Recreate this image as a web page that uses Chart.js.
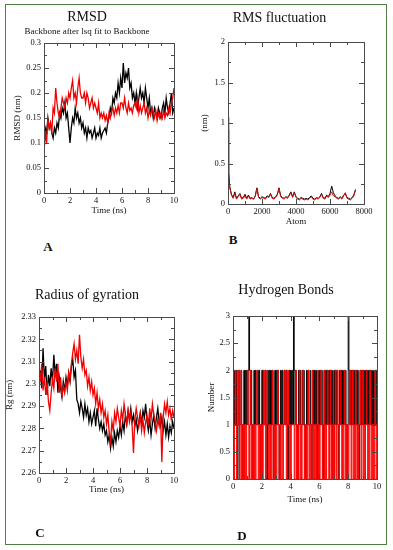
<!DOCTYPE html>
<html>
<head>
<meta charset="utf-8">
<script src="https://cdn.jsdelivr.net/npm/chart.js@4.4.1/dist/chart.umd.min.js"></script>
<style>
    body { margin: 0; background: #fff; }
    #page { position: relative; width: 393px; height: 550px; background: #fff; overflow: hidden; }
    #frame { position: absolute; left: 5px; top: 4px; width: 380px; height: 539px; border: 1px solid #4e7e46; }
    canvas { position: absolute; }
    .tag { position: absolute; transform: translate(-50%, -50%); font: bold 13px "Liberation Serif", serif; color: #111; }
</style>
</head>
<body>
<div id="page">
    <div id="frame"></div>
    <canvas id="rmsd" width="195" height="230" style="left:0;top:0"></canvas>
    <canvas id="rmsf" width="198" height="230" style="left:195px;top:0"></canvas>
    <canvas id="gyr" width="195" height="280" style="left:0;top:270px"></canvas>
    <canvas id="hbond" width="198" height="280" style="left:195px;top:270px"></canvas>
    <div class="tag" style="left:48px;top:247px">A</div>
    <div class="tag" style="left:233px;top:240px">B</div>
    <div class="tag" style="left:40px;top:533px">C</div>
    <div class="tag" style="left:242px;top:536px">D</div>
</div>
<script>
// RMSD (nm), one value every 0.1 ns
const rmsdBlack = [
    0.10, 0.13, 0.12, 0.15, 0.13, 0.14, 0.12, 0.11, 0.13, 0.12,
    0.14, 0.13, 0.16, 0.15, 0.17, 0.16, 0.18, 0.15, 0.16, 0.13,
    0.10, 0.13, 0.15, 0.14, 0.17, 0.15, 0.16, 0.14, 0.15, 0.13,
    0.14, 0.12, 0.13, 0.11, 0.13, 0.12, 0.125, 0.11, 0.12, 0.13,
    0.11, 0.12, 0.115, 0.13, 0.11, 0.12, 0.125, 0.13, 0.12, 0.14,
    0.15, 0.17, 0.16, 0.19, 0.18, 0.20, 0.19, 0.22, 0.20, 0.23,
    0.21, 0.26, 0.22, 0.24, 0.23, 0.25, 0.21, 0.22, 0.19, 0.20,
    0.18, 0.20, 0.17, 0.19, 0.21, 0.19, 0.20, 0.18, 0.21, 0.19,
    0.17, 0.19, 0.16, 0.17, 0.15, 0.17, 0.16, 0.15, 0.17, 0.16,
    0.15, 0.17, 0.18, 0.16, 0.19, 0.17, 0.16, 0.18, 0.20, 0.16,
    0.17
];
const rmsdRed = [
    0.08, 0.12, 0.10, 0.15, 0.13, 0.14, 0.12, 0.17, 0.16, 0.21,
    0.18, 0.16, 0.15, 0.17, 0.19, 0.18, 0.17, 0.19, 0.18, 0.20,
    0.19, 0.21, 0.225, 0.19, 0.20, 0.18, 0.21, 0.23, 0.20, 0.19,
    0.19, 0.20, 0.18, 0.20, 0.19, 0.17, 0.18, 0.19, 0.17, 0.18,
    0.17, 0.16, 0.18, 0.15, 0.16, 0.15, 0.16, 0.145, 0.155, 0.14,
    0.16, 0.15, 0.165, 0.17, 0.155, 0.17, 0.16, 0.175, 0.16, 0.18,
    0.18, 0.17, 0.19, 0.17, 0.16, 0.18, 0.165, 0.17, 0.16, 0.175,
    0.18, 0.17, 0.19, 0.16, 0.175, 0.16, 0.17, 0.18, 0.16, 0.17,
    0.15, 0.165, 0.155, 0.17, 0.16, 0.15, 0.165, 0.145, 0.16, 0.15,
    0.16, 0.15, 0.165, 0.15, 0.16, 0.155, 0.17, 0.16, 0.18, 0.19,
    0.21
];

// RMS fluctuation (nm) per atom
const rmsfAtoms = [
    0, 25, 50, 100, 150, 200,
    300, 400, 500, 600, 700, 800, 900, 1000, 1100, 1200,
    1300, 1400, 1500, 1600, 1700, 1800, 1900, 2000, 2100, 2200,
    2300, 2400, 2500, 2600, 2700, 2800, 2900, 3000, 3100, 3200,
    3300, 3400, 3500, 3600, 3700, 3800, 3900, 4000, 4100, 4200,
    4300, 4400, 4500, 4600, 4700, 4800, 4900, 5000, 5100, 5200,
    5300, 5400, 5500, 5600, 5700, 5800, 5900, 6000, 6100, 6200,
    6300, 6400, 6500, 6600, 6700, 6800, 6900, 7000, 7100, 7200,
    7300, 7400, 7500
];
const rmsfBlack = [
    1.07, 0.80, 0.42, 0.22, 0.17, 0.12,
    0.08, 0.15, 0.07, 0.10, 0.13, 0.07, 0.08, 0.12, 0.07, 0.11,
    0.07, 0.08, 0.06, 0.10, 0.20, 0.09, 0.07, 0.09, 0.08, 0.07,
    0.10, 0.09, 0.13, 0.08, 0.07, 0.09, 0.12, 0.20, 0.10, 0.08,
    0.07, 0.09, 0.08, 0.11, 0.15, 0.09, 0.15, 0.09, 0.07, 0.06,
    0.08, 0.07, 0.06, 0.07, 0.06, 0.08, 0.10, 0.07, 0.06, 0.08,
    0.07, 0.09, 0.13, 0.08, 0.07, 0.11, 0.09, 0.13, 0.22, 0.14,
    0.10, 0.08, 0.07, 0.09, 0.07, 0.11, 0.13, 0.08, 0.07, 0.06,
    0.08, 0.11, 0.18
];
const rmsfRed = [
    0.92, 0.70, 0.38, 0.20, 0.16, 0.11,
    0.07, 0.13, 0.06, 0.09, 0.12, 0.06, 0.07, 0.10, 0.06, 0.10,
    0.06, 0.07, 0.06, 0.09, 0.19, 0.08, 0.06, 0.08, 0.07, 0.06,
    0.09, 0.08, 0.12, 0.07, 0.06, 0.08, 0.11, 0.19, 0.09, 0.07,
    0.06, 0.08, 0.07, 0.10, 0.14, 0.08, 0.14, 0.08, 0.06, 0.05,
    0.07, 0.06, 0.05, 0.06, 0.05, 0.07, 0.09, 0.06, 0.05, 0.07,
    0.06, 0.08, 0.12, 0.07, 0.06, 0.10, 0.08, 0.11, 0.15, 0.10,
    0.09, 0.07, 0.06, 0.08, 0.06, 0.10, 0.14, 0.07, 0.06, 0.05,
    0.07, 0.10, 0.17
];

// Radius of gyration (nm), one value every 0.1 ns
const rgBlack = [
    2.300, 2.306, 2.298, 2.316, 2.302, 2.308, 2.295, 2.304, 2.299, 2.307,
    2.301, 2.313, 2.304, 2.309, 2.296, 2.303, 2.298, 2.294, 2.301, 2.297,
    2.303, 2.299, 2.305, 2.301, 2.308, 2.311, 2.303, 2.306, 2.293, 2.291,
    2.287, 2.292, 2.289, 2.285, 2.291, 2.286, 2.289, 2.283, 2.287, 2.282,
    2.285, 2.288, 2.281, 2.289, 2.284, 2.280, 2.283, 2.279, 2.282, 2.277,
    2.279, 2.274, 2.277, 2.271, 2.276, 2.272, 2.278, 2.274, 2.279, 2.276,
    2.281, 2.277, 2.283, 2.279, 2.286, 2.282, 2.288, 2.284, 2.289, 2.283,
    2.286, 2.281, 2.284, 2.279, 2.283, 2.287, 2.282, 2.288, 2.285, 2.291,
    2.283, 2.279, 2.284, 2.277, 2.282, 2.286, 2.280, 2.285, 2.289, 2.283,
    2.281, 2.285, 2.279, 2.283, 2.277, 2.282, 2.276, 2.281, 2.278, 2.283,
    2.280
];
const rgRed = [
    2.306, 2.301, 2.309, 2.297, 2.303, 2.295, 2.301, 2.292, 2.288, 2.296,
    2.302, 2.298, 2.307, 2.301, 2.309, 2.296, 2.303, 2.294, 2.299, 2.296,
    2.301, 2.297, 2.305, 2.302, 2.309, 2.314, 2.318, 2.311, 2.315, 2.309,
    2.322, 2.312, 2.307, 2.311, 2.304, 2.306, 2.299, 2.303, 2.297, 2.301,
    2.295, 2.298, 2.291, 2.296, 2.289, 2.293, 2.287, 2.291, 2.285, 2.288,
    2.282, 2.286, 2.278, 2.274, 2.283, 2.279, 2.287, 2.283, 2.289, 2.285,
    2.281, 2.288, 2.284, 2.291, 2.286, 2.282, 2.288, 2.283, 2.287, 2.281,
    2.269, 2.284, 2.289, 2.285, 2.281, 2.286, 2.279, 2.284, 2.278, 2.283,
    2.286, 2.281, 2.289, 2.284, 2.291, 2.286, 2.283, 2.279, 2.284, 2.281,
    2.287, 2.265, 2.285, 2.291, 2.287, 2.292, 2.286, 2.289, 2.284, 2.288,
    2.285
];

// hydrogen bond count, one value every 0.05 ns
const hbBlack = [
    1, 2, 1, 1, 2, 1, 0, 1, 2, 1,
    1, 2, 1, 0, 1, 2, 1, 2, 1, 2,
    1, 2, 3, 2, 1, 2, 1, 0, 1, 2,
    1, 2, 1, 1, 2, 1, 2, 1, 0, 1,
    2, 1, 2, 1, 1, 2, 1, 0, 2, 1,
    2, 1, 2, 1, 2, 1, 0, 1, 2, 1,
    2, 1, 2, 1, 0, 1, 2, 1, 2, 1,
    1, 2, 1, 1, 2, 1, 0, 1, 2, 1,
    2, 1, 2, 1, 3, 2, 1, 2, 1, 0,
    1, 2, 1, 2, 1, 1, 2, 1, 2, 1,
    0, 1, 2, 1, 2, 1, 1, 2, 1, 0,
    1, 2, 1, 2, 1, 2, 1, 0, 1, 2,
    1, 2, 1, 2, 1, 0, 1, 2, 1, 2,
    1, 2, 1, 2, 1, 2, 1, 2, 0, 1,
    2, 1, 2, 1, 2, 1, 0, 1, 2, 1,
    2, 1, 2, 1, 2, 1, 2, 1, 0, 1,
    3, 2, 1, 2, 1, 2, 1, 2, 1, 2,
    1, 2, 1, 2, 1, 0, 1, 2, 1, 2,
    1, 2, 1, 2, 1, 2, 1, 2, 1, 2,
    1, 2, 1, 2, 1, 2, 1, 2, 1, 2,
    1
];
const hbRed = [
    1, 0, 1, 2, 1, 0, 2, 1, 2, 0,
    1, 2, 0, 1, 0, 1, 0, 1, 0, 1,
    2, 1, 0, 1, 2, 0, 1, 0, 1, 0,
    1, 0, 1, 2, 1, 0, 1, 0, 1, 0,
    1, 0, 2, 1, 2, 0, 1, 2, 1, 0,
    1, 0, 1, 0, 1, 2, 0, 1, 0, 1,
    0, 1, 2, 1, 0, 1, 0, 1, 1, 0,
    1, 2, 1, 2, 0, 1, 2, 1, 0, 1,
    0, 1, 1, 1, 1, 0, 1, 2, 0, 1,
    0, 1, 2, 0, 1, 0, 1, 2, 1, 0,
    1, 0, 1, 0, 2, 1, 0, 1, 0, 1,
    2, 0, 1, 0, 1, 0, 1, 2, 0, 1,
    0, 1, 2, 1, 0, 1, 2, 0, 1, 0,
    1, 2, 1, 0, 1, 2, 0, 1, 0, 1,
    0, 1, 2, 0, 1, 2, 1, 0, 1, 2,
    1, 0, 1, 0, 1, 2, 0, 1, 0, 1,
    0, 1, 2, 1, 0, 1, 2, 0, 1, 0,
    2, 1, 0, 1, 0, 1, 2, 1, 0, 1,
    2, 0, 1, 0, 1, 2, 1, 0, 1, 0,
    2, 1, 0, 1, 0, 1, 0, 2, 1, 0,
    1
];

const serif = '"Liberation Serif", "Times New Roman", serif';
const ink = '#111';

function series(values, step) {
    return values.map((v, i) => ({ x: +(i * step).toFixed(2), y: v }));
}
function paired(xs, values) {
    return values.map((v, i) => ({ x: xs[i], y: v }));
}
const numLabel = v => String(+Number(v).toFixed(3));

// boxed frame with inward major/minor ticks on all four sides
const boxTicks = {
    id: 'boxTicks',
    afterDraw(chart, args, opts) {
        const { ctx, chartArea: a, scales: { x, y } } = chart;
        ctx.save();
        ctx.strokeStyle = '#4a4a4a';
        ctx.lineWidth = 1;
        ctx.strokeRect(Math.round(a.left) + 0.5, Math.round(a.top) + 0.5,
            Math.round(a.right - a.left), Math.round(a.bottom - a.top));
        ctx.beginPath();
        const mark = (scale, value, len) => {
            const p = Math.round(scale.getPixelForValue(value)) + 0.5;
            if (scale.isHorizontal()) {
                ctx.moveTo(p, a.bottom); ctx.lineTo(p, a.bottom - len);
                ctx.moveTo(p, a.top); ctx.lineTo(p, a.top + len);
            } else {
                ctx.moveTo(a.left, p); ctx.lineTo(a.left + len, p);
                ctx.moveTo(a.right, p); ctx.lineTo(a.right - len, p);
            }
        };
        [[x, opts.xMinor], [y, opts.yMinor]].forEach(([scale, minor]) => {
            const n = Math.round((scale.max - scale.min) / minor);
            for (let i = 0; i <= n; i++) {
                const v = scale.min + i * minor;
                const major = scale.ticks.some(t => Math.abs(t.value - v) < minor / 10);
                mark(scale, v, major ? 5 : 3);
            }
        });
        ctx.stroke();
        ctx.restore();
    }
};

function zeroPad(s) {
    s.paddingLeft = 0; s.paddingRight = 0; s.paddingTop = 0; s.paddingBottom = 0;
}

function xAxis(min, max, step, label, height, titlePad) {
    return {
        type: 'linear', min: min, max: max,
        grid: { display: false, drawTicks: false, tickLength: 0 }, border: { display: false },
        ticks: {
            stepSize: step, autoSkip: false, maxRotation: 0, padding: 3,
            color: ink, font: { family: serif, size: 8.5 }, callback: numLabel
        },
        title: {
            display: true, text: label, color: ink,
            font: { family: serif, size: 9 }, padding: { top: 0, bottom: titlePad }
        },
        afterFit(s) { s.height = height; zeroPad(s); }
    };
}

function yAxis(min, max, step, label, width, titlePad) {
    return {
        type: 'linear', min: min, max: max,
        grid: { display: false, drawTicks: false, tickLength: 0 }, border: { display: false },
        ticks: {
            stepSize: step, autoSkip: false, padding: 3,
            color: ink, font: { family: serif, size: 8.5 }, callback: numLabel
        },
        title: {
            display: true, text: label, color: ink,
            font: { family: serif, size: 9 }, padding: { top: titlePad, bottom: 0 }
        },
        afterFit(s) { s.width = width; zeroPad(s); }
    };
}

function lineSet(data, color, width, stepped) {
    return {
        data: data, borderColor: color, backgroundColor: color,
        borderWidth: width, pointRadius: 0, tension: 0, stepped: !!stepped
    };
}

function panel(id, cfg) {
    new Chart(document.getElementById(id), {
        type: 'line',
        data: { datasets: cfg.datasets },
        options: {
            responsive: false,
            animation: false,
            events: [],
            layout: { padding: cfg.padding },
            plugins: {
                legend: { display: false },
                tooltip: { enabled: false },
                title: {
                    display: true, text: cfg.title, color: ink,
                    font: { family: serif, size: 14, weight: 'normal' },
                    padding: cfg.titlePad
                },
                subtitle: {
                    display: !!cfg.subtitle, text: cfg.subtitle || '', color: ink,
                    font: { family: serif, size: 9, weight: 'normal' },
                    padding: cfg.subPad || 0
                },
                boxTicks: cfg.minor
            },
            scales: { x: cfg.x, y: cfg.y }
        },
        plugins: [boxTicks]
    });
}

panel('rmsd', {
    title: 'RMSD',
    subtitle: 'Backbone after lsq fit to Backbone',
    titlePad: { top: 9, bottom: 0 },
    subPad: { top: 0, bottom: 6.4 },
    padding: { left: 0, right: 21, top: 0, bottom: 11 },
    datasets: [
        lineSet(series(rmsdRed, 0.1), '#f00000', 1.3),
        lineSet(series(rmsdBlack, 0.1), '#000000', 1.3)
    ],
    x: xAxis(0, 10, 2, 'Time (ns)', 26, 2.6),
    y: yAxis(0, 0.3, 0.05, 'RMSD (nm)', 44, 12.6),
    minor: { xMinor: 1, yMinor: 0.025 }
});

panel('rmsf', {
    title: 'RMS fluctuation',
    titlePad: { top: 9.6, bottom: 15.6 },
    padding: { left: 0, right: 29, top: 0, bottom: 0 },
    datasets: [
        lineSet(paired(rmsfAtoms, rmsfRed), '#d01010', 1),
        lineSet(paired(rmsfAtoms, rmsfBlack), '#000000', 1)
    ],
    x: xAxis(0, 8000, 2000, 'Atom', 26, 2.6),
    y: yAxis(0, 2, 0.5, '(nm)', 33, 4.6),
    minor: { xMinor: 1000, yMinor: 0.25 }
});

panel('gyr', {
    title: 'Radius of gyration',
    titlePad: { top: 17.1, bottom: 13.1 },
    padding: { left: 0, right: 21, top: 0, bottom: 51 },
    datasets: [
        lineSet(series(rgRed, 0.1), '#f00000', 1.3),
        lineSet(series(rgBlack, 0.1), '#000000', 1.3)
    ],
    x: xAxis(0, 10, 2, 'Time (ns)', 26, 3.6),
    y: yAxis(2.26, 2.33, 0.01, 'Rg (nm)', 39, 4.6),
    minor: { xMinor: 1, yMinor: 0.005 }
});

panel('hbond', {
    title: 'Hydrogen Bonds',
    titlePad: { top: 11.6, bottom: 17.6 },
    padding: { left: 0, right: 16, top: 0, bottom: 43 },
    datasets: [
        lineSet(series(hbRed, 0.05), '#ff0000', 1, true),
        lineSet(series(hbBlack, 0.05), '#000000', 1, true)
    ],
    x: xAxis(0, 10, 2, 'Time (ns)', 28, 1.6),
    y: yAxis(0, 3, 0.5, 'Number', 38, 11.3),
    minor: { xMinor: 1, yMinor: 0.25 }
});
</script>
</body>
</html>
